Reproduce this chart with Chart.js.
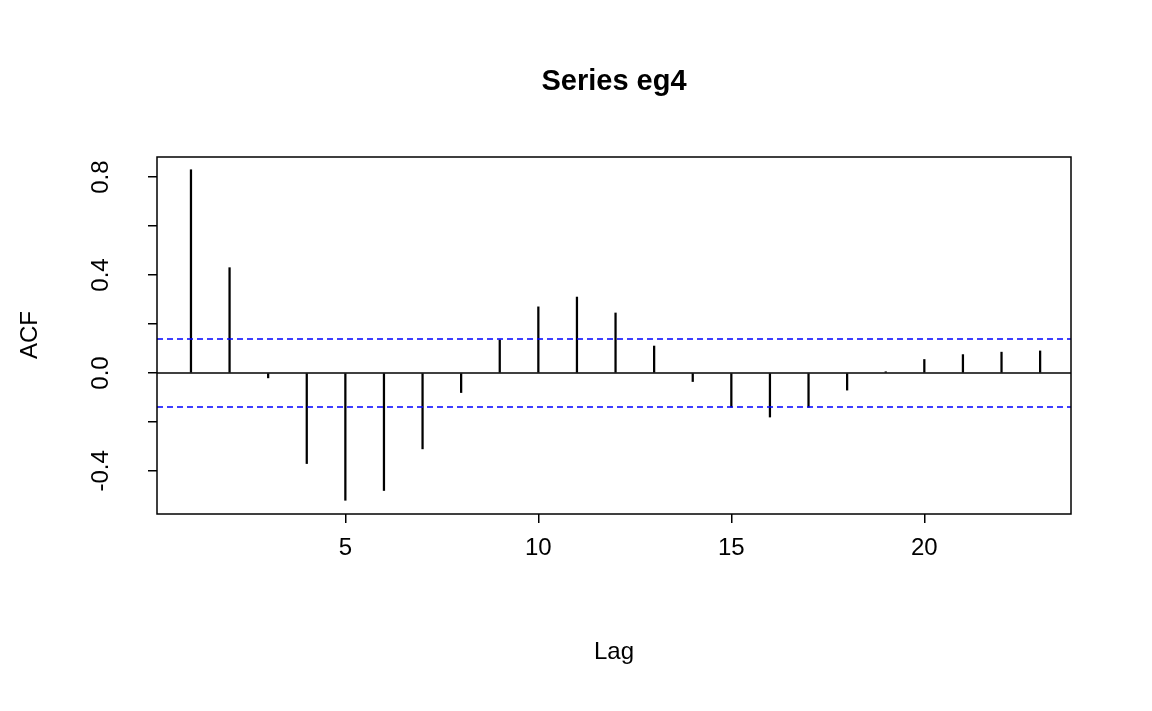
<!DOCTYPE html>
<html><head><meta charset="utf-8">
<script src="https://cdn.jsdelivr.net/npm/chart.js@4"></script>
<style>html,body{margin:0;padding:0;background:#fff}#c{display:block}</style>
</head><body>
<div style="width:1152px;height:711px"><canvas id="c"></canvas></div>
<script>
const lags=[1,2,3,4,5,6,7,8,9,10,11,12,13,14,15,16,17,18,19,20,21,22,23];
const acf=[0.83,0.43,-0.02,-0.37,-0.52,-0.48,-0.31,-0.08,0.135,0.27,0.31,0.245,0.11,-0.035,-0.14,-0.18,-0.14,-0.07,0.005,0.055,0.075,0.085,0.09];
const ci=0.139;
const xTicks=[5,10,15,20];
const yTicks=[-0.4,-0.2,0,0.2,0.4,0.6,0.8];
const yLabels=['-0.4','','0.0','','0.4','','0.8'];
const XMIN=0.12,XMAX=23.8,YMIN=-0.576,YMAX=0.882;
const F='"Liberation Sans", Arial, sans-serif';
const textPlugin={id:'txt',afterDraw(c){
 const g=c.ctx,a=c.chartArea,xs=c.scales.x,ys=c.scales.y;
 g.save();g.strokeStyle='#000';g.lineWidth=1.5;g.strokeRect(a.left,a.top,a.right-a.left,a.bottom-a.top);
 g.fillStyle='#000';g.textAlign='center';g.textBaseline='middle';
 g.font='bold 29px '+F;g.fillText('Series eg4',614,82);
 g.font='24px '+F;g.fillText('Lag',614,652);
 xTicks.forEach(t=>g.fillText(String(t),xs.getPixelForValue(t),548));
 yTicks.forEach((t,i)=>{if(!yLabels[i])return;g.save();g.translate(101,ys.getPixelForValue(t));g.rotate(-Math.PI/2);g.fillText(yLabels[i],0,0);g.restore();});
 g.save();g.translate(30,335);g.rotate(-Math.PI/2);g.fillText('ACF',0,0);g.restore();
 g.restore();}};
new Chart(document.getElementById('c'),{
 data:{datasets:[
  {type:'bar',data:lags.map((l,i)=>({x:l,y:acf[i]})),backgroundColor:'#000',barThickness:1.6,borderWidth:0,order:2},
  {type:'line',data:[{x:XMIN,y:0},{x:XMAX,y:0}],borderColor:'#000',borderWidth:1.5,pointRadius:0,order:1},
  {type:'line',data:[{x:XMIN,y:ci},{x:XMAX,y:ci}],borderColor:'#0000ff',borderWidth:1.5,borderDash:[6,4],pointRadius:0,order:1},
  {type:'line',data:[{x:XMIN,y:-ci},{x:XMAX,y:-ci}],borderColor:'#0000ff',borderWidth:1.5,borderDash:[6,4],pointRadius:0,order:1}
 ]},
 options:{responsive:true,maintainAspectRatio:false,animation:false,
  layout:{padding:{top:157,right:81,left:0,bottom:0}},
  plugins:{legend:{display:false},tooltip:{enabled:false}},
  scales:{
   x:{type:'linear',offset:false,min:XMIN,max:XMAX,afterBuildTicks:s=>{s.ticks=xTicks.map(v=>({value:v}))},
      afterFit:s=>{s.height=197},border:{display:false},
      grid:{offset:false,drawOnChartArea:false,tickLength:9,color:'#000',lineWidth:1.5},ticks:{callback:()=>'',font:{size:1}}},
   y:{type:'linear',min:YMIN,max:YMAX,afterBuildTicks:s=>{s.ticks=yTicks.map(v=>({value:v}))},
      afterFit:s=>{s.width=157},border:{display:false},
      grid:{drawOnChartArea:false,tickLength:9,color:'#000',lineWidth:1.5},ticks:{callback:()=>'',font:{size:1}}}
  }},
 plugins:[textPlugin]});
</script></body></html>
